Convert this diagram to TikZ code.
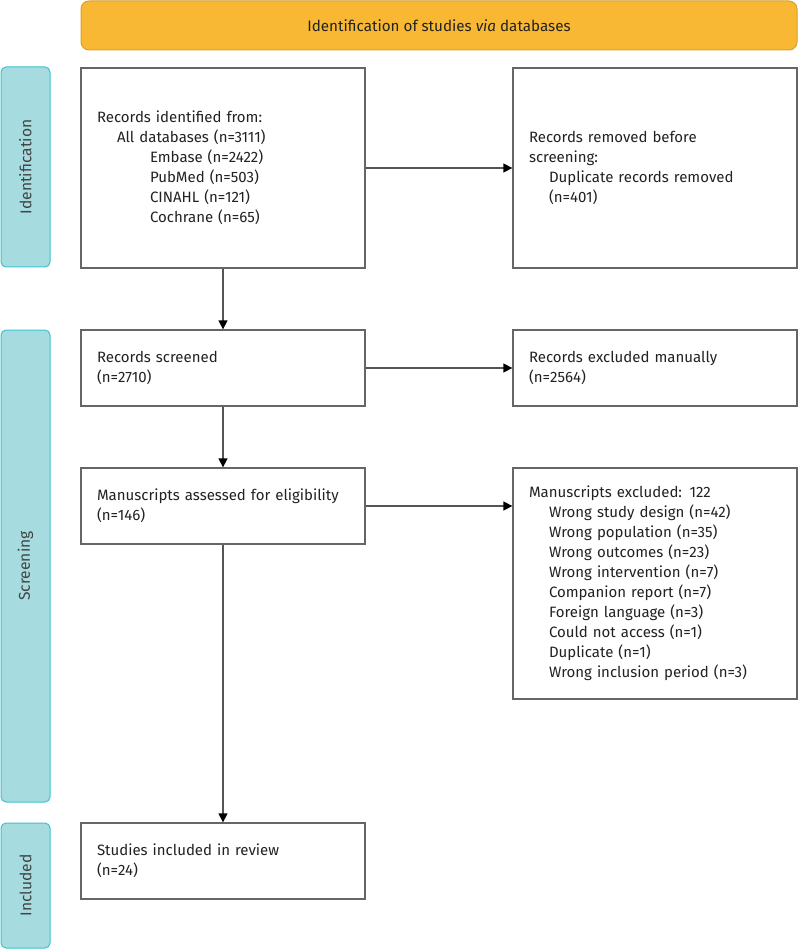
\documentclass[tikz,border=0pt]{standalone}
\usepackage{fontspec}
\setmainfont{Fira Sans}
\usetikzlibrary{arrows.meta}
\definecolor{bannerfill}{HTML}{F8B833}
\definecolor{bannerdraw}{HTML}{D9A02C}
\definecolor{sidefill}{HTML}{A6DBE0}
\definecolor{sidedraw}{HTML}{3CC3CF}
\definecolor{boxdraw}{HTML}{666666}
\definecolor{linecol}{HTML}{555555}
\definecolor{txt}{HTML}{222222}
\begin{document}
\begin{tikzpicture}[x=1pt,y=-1pt,
  every node/.style={font=\fontsize{15}{20}\selectfont, text=txt},
  banner/.style={draw=bannerdraw, fill=bannerfill, line width=1pt, rounded corners=8pt, minimum width=716pt, minimum height=49pt, inner sep=0pt, font=\fontsize{15.2}{20}\selectfont},
  side/.style={draw=sidedraw, fill=sidefill, line width=1pt, rounded corners=5pt, minimum width=49pt, inner sep=0pt},
  sidelabel/.style={rotate=90, text=txt!85, font=\fontsize{15.6}{20}\selectfont},
  flowbox/.style={draw=boxdraw, fill=white, line width=1.3pt, inner xsep=16pt, inner ysep=0pt, text width=252pt, align=left},
  conn/.style={draw=linecol, line width=1.3pt, -{Triangle[length=9pt,width=9pt,color=black]}}
]
\useasboundingbox (0,0) rectangle (798,949);

\node[banner] (banner) at (439,25.5) {Identification of studies \textit{via} databases};

\node[side, minimum height=200pt] (sid) at (25.5,167) {};
\node[sidelabel] (sidt) at (sid.center) {Identification};
\node[side, minimum height=472pt] (ssc) at (25.5,566) {};
\node[sidelabel] (ssct) at (ssc.center) {Screening};
\node[side, minimum height=125pt] (sin) at (25.5,885.5) {};
\node[sidelabel] (sint) at (sin.center) {Included};

\node[flowbox, minimum height=200pt] (ident) at (223,168) {Records identified from:\\
\hspace*{20pt}All databases (n=3111)\\
\hspace*{53pt}Embase (n=2422)\\
\hspace*{53pt}PubMed (n=503)\\
\hspace*{53pt}CINAHL (n=121)\\
\hspace*{53pt}Cochrane (n=65)};

\node[flowbox, minimum height=200pt] (removed) at (655,168) {Records removed before\\ screening:\\
\hspace*{20pt}Duplicate records removed\\
\hspace*{20pt}(n=401)};

\node[flowbox, minimum height=76pt] (screened) at (223,368) {Records screened\\(n=2710)};
\node[flowbox, minimum height=76pt] (excl) at (655,368) {Records excluded manually\\(n=2564)};

\node[flowbox, minimum height=76pt] (assessed) at (223,506) {Manuscripts assessed for eligibility\\(n=146)};
\node[flowbox, minimum height=231pt] (mexcl) at (655,583.5) {Manuscripts excluded: 122\\
\hspace*{20pt}Wrong study design (n=42)\\
\hspace*{20pt}Wrong population (n=35)\\
\hspace*{20pt}Wrong outcomes (n=23)\\
\hspace*{20pt}Wrong intervention (n=7)\\
\hspace*{20pt}Companion report (n=7)\\
\hspace*{20pt}Foreign language (n=3)\\
\hspace*{20pt}Could not access (n=1)\\
\hspace*{20pt}Duplicate (n=1)\\
\hspace*{20pt}Wrong inclusion period (n=3)};

\node[flowbox, minimum height=76pt] (incl) at (223,861) {Studies included in review\\(n=24)};

\draw[conn] (ident.east) -- (removed.west);
\draw[conn] (ident.south) -- (screened.north);
\draw[conn] (screened.east) -- (excl.west);
\draw[conn] (screened.south) -- (assessed.north);
\draw[conn] (assessed.east) -- (assessed.east -| mexcl.west);
\draw[conn] (assessed.south) -- (incl.north);
\end{tikzpicture}
\end{document}
